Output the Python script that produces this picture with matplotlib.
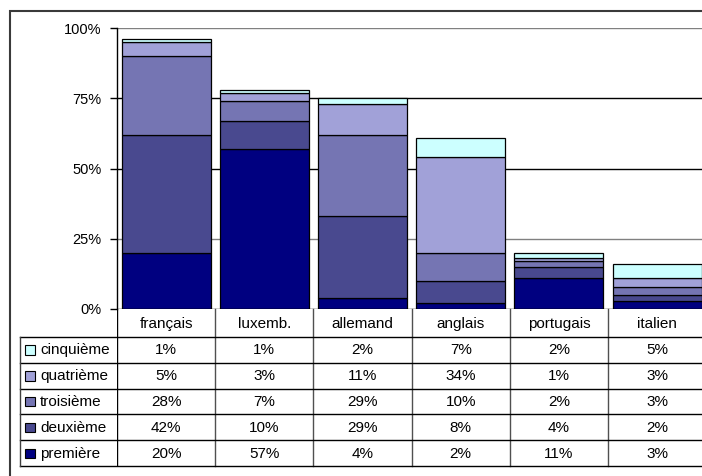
import numpy as np
import matplotlib.pyplot as plt
from matplotlib.patches import Rectangle

plt.rcParams["font.family"] = ["Liberation Sans", "DejaVu Sans"]

langues = ["français", "luxemb.", "allemand", "anglais", "portugais", "italien"]

premiere = [20, 57, 4, 2, 11, 3]
deuxieme = [42, 10, 29, 8, 4, 2]
troisieme = [28, 7, 29, 10, 2, 3]
quatrieme = [5, 3, 11, 34, 1, 3]
cinquieme = [1, 1, 2, 7, 2, 5]

series = [
    ("première", premiere, "#000080"),
    ("deuxième", deuxieme, "#49498f"),
    ("troisième", troisieme, "#7575b3"),
    ("quatrième", quatrieme, "#a1a1d8"),
    ("cinquième", cinquieme, "#ccffff"),
]

W, H = 702, 476
fig = plt.figure(figsize=(W / 100, H / 100), dpi=100)

# cadre exterieur (coupé a droite et en bas dans l'original)
fig.patches.append(Rectangle((10 / W, -0.05), 1.2, 1 - 10.5 / H + 0.05,
                             transform=fig.transFigure, fill=False,
                             edgecolor="#3a3a3a", linewidth=1.5))

cat_w = 98.2
x0, x1 = 117, 117 + 6 * cat_w
y_top, y_zero, y_tab = 28, 309, 466

ax = fig.add_axes([x0 / W, 1 - y_zero / H, (x1 - x0) / W, (y_zero - y_top) / H])
x = np.arange(len(langues))
bas = np.zeros(len(langues))
for nom, vals, col in series:
    ax.bar(x, vals, bottom=bas, width=0.906, color=col, edgecolor="black",
           linewidth=0.9, zorder=3)
    bas += np.array(vals)

ax.set_xlim(-0.5, 5.5)
ax.set_ylim(0, 100)
ax.set_yticks([0, 25, 50, 75, 100])
ax.set_yticklabels(["0%", "25%", "50%", "75%", "100%"], fontsize=10.5)
ax.set_xticks([])
for v, c in [(25, "#808080"), (50, "black"), (75, "black"), (100, "#808080")]:
    ax.axhline(v, color=c, linewidth=1.0, zorder=1)
for s in ["top", "right", "bottom"]:
    ax.spines[s].set_visible(False)
ax.spines["left"].set_color("black")
ax.spines["left"].set_linewidth(1.0)
ax.tick_params(axis="y", length=5, width=1.0, pad=6, colors="black")
ax.axhline(0, color="black", linewidth=1.0, zorder=4)

# tableau de données
tab = fig.add_axes([x0 / W, 1 - y_tab / H, (x1 - x0) / W, (y_tab - y_zero) / H])
tab.set_xlim(-0.5, 5.5)
tab.set_ylim(y_tab, y_zero)
tab.axis("off")

y_head = 337
row_h = (y_tab - y_head) / 5
x_bord = -0.5 - (x0 - 20) / cat_w

# axe vertical prolongé (bord de la colonne légende)
tab.plot([-0.5, -0.5], [y_zero, y_tab], color="black", linewidth=1.0)
# séparateurs d'entete
for i in range(1, 7):
    tab.plot([i - 0.5, i - 0.5], [y_zero, y_tab], color="#505050",
             linewidth=1.0, clip_on=False)
for i, lang in enumerate(langues):
    tab.text(i, (y_zero + y_head) / 2 + 1, lang, ha="center", va="center",
             fontsize=11)

# lignes horizontales du corps
for r in range(6):
    yy = y_head + r * row_h
    tab.plot([x_bord, 5.5], [yy, yy], color="black", linewidth=1.0,
             clip_on=False)
tab.plot([x_bord, x_bord], [y_head, y_tab], color="#404040", linewidth=1.0,
         clip_on=False)

x_carre = -0.5 - (x0 - 25) / cat_w
x_texte = -0.5 - (x0 - 40) / cat_w
for r, (nom, vals, col) in enumerate(reversed(series)):
    yc = y_head + (r + 0.5) * row_h
    tab.add_patch(Rectangle((x_carre, yc - 4.5), 9.5 / cat_w, 9.5,
                            facecolor=col, edgecolor="black", linewidth=0.8,
                            clip_on=False))
    tab.text(x_texte, yc + 0.5, nom, ha="left", va="center", fontsize=11)
    for i, v in enumerate(vals):
        tab.text(i, yc + 0.5, f"{v}%", ha="center", va="center", fontsize=11)

fig.savefig("out.png", dpi=100)
